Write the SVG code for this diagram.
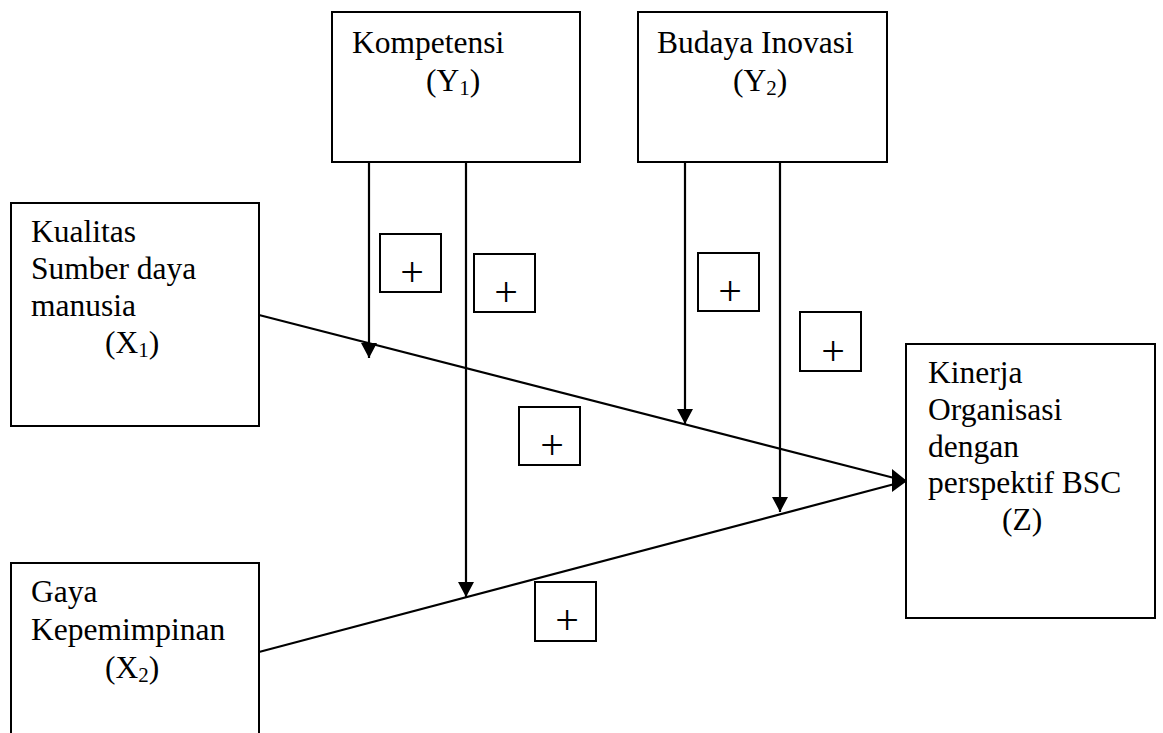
<svg xmlns="http://www.w3.org/2000/svg" width="1163" height="733" viewBox="0 0 1163 733">
<style>
.box{fill:#fff;stroke:#000;stroke-width:2}
.pbox{fill:none;stroke:#000;stroke-width:2}
.t{font-family:"Liberation Serif","Times New Roman",serif;font-size:31.5px;fill:#000}
.sub{font-size:21px}
.plus{font-family:"Liberation Serif","Times New Roman",serif;font-size:42px;fill:#000;text-anchor:middle}
.ln{stroke:#000;stroke-width:2.2;fill:none}
</style>
<defs>
<marker id="ah" markerUnits="userSpaceOnUse" markerWidth="15" markerHeight="16" refX="15" refY="8" orient="auto">
<path d="M0,0 L15,8 L0,16 z" fill="#000"/>
</marker>
</defs>
<rect width="1163" height="733" fill="#fff"/>
<g id="connectors">
<line class="ln" x1="259" y1="315" x2="906" y2="481"/>
<line class="ln" x1="259" y1="652" x2="906" y2="481"/>
<polygon points="892,469 907,481 892,492" fill="#000"/>
<line class="ln" x1="369" y1="162" x2="369" y2="358" marker-end="url(#ah)"/>
<line class="ln" x1="466" y1="162" x2="466" y2="597" marker-end="url(#ah)"/>
<line class="ln" x1="685" y1="162" x2="685" y2="424" marker-end="url(#ah)"/>
<line class="ln" x1="780" y1="162" x2="780" y2="512" marker-end="url(#ah)"/>
</g>
<g id="kompetensi">
<rect class="box" x="332" y="12" width="248" height="150"/>
<text class="t" x="352" y="53">Kompetensi</text>
<text class="t" x="426" y="91">(Y<tspan class="sub" dy="4">1</tspan><tspan dy="-4">)</tspan></text>
</g>
<g id="budaya">
<rect class="box" x="638" y="12" width="249" height="150"/>
<text class="t" x="657" y="53">Budaya Inovasi</text>
<text class="t" x="733" y="91">(Y<tspan class="sub" dy="4">2</tspan><tspan dy="-4">)</tspan></text>
</g>
<g id="kualitas">
<rect class="box" x="11" y="203" width="248" height="223"/>
<text class="t" x="31" y="242">Kualitas</text>
<text class="t" x="31" y="279">Sumber daya</text>
<text class="t" x="31" y="316">manusia</text>
<text class="t" x="105" y="353">(X<tspan class="sub" dy="4">1</tspan><tspan dy="-4">)</tspan></text>
</g>
<g id="gaya">
<rect class="box" x="11" y="563" width="248" height="190"/>
<text class="t" x="31" y="602">Gaya</text>
<text class="t" x="31" y="640">Kepemimpinan</text>
<text class="t" x="105" y="678">(X<tspan class="sub" dy="4">2</tspan><tspan dy="-4">)</tspan></text>
</g>
<g id="kinerja">
<rect class="box" x="906" y="344" width="249" height="274"/>
<text class="t" x="928" y="383">Kinerja</text>
<text class="t" x="928" y="420">Organisasi</text>
<text class="t" x="928" y="457">dengan</text>
<text class="t" x="928" y="493">perspektif BSC</text>
<text class="t" x="1002" y="530">(Z)</text>
</g>
<g id="plus1"><rect class="pbox" x="380" y="234" width="61" height="58"/><text class="plus" x="412" y="286">+</text></g>
<g id="plus2"><rect class="pbox" x="474" y="254" width="61" height="58"/><text class="plus" x="506" y="306">+</text></g>
<g id="plus3"><rect class="pbox" x="698" y="253" width="61" height="58"/><text class="plus" x="730" y="305">+</text></g>
<g id="plus4"><rect class="pbox" x="800" y="312" width="61" height="59"/><text class="plus" x="833" y="365">+</text></g>
<g id="plus5"><rect class="pbox" x="519" y="407" width="61" height="58"/><text class="plus" x="552" y="459">+</text></g>
<g id="plus6"><rect class="pbox" x="535" y="582" width="61" height="59"/><text class="plus" x="567" y="634">+</text></g>
</svg>
